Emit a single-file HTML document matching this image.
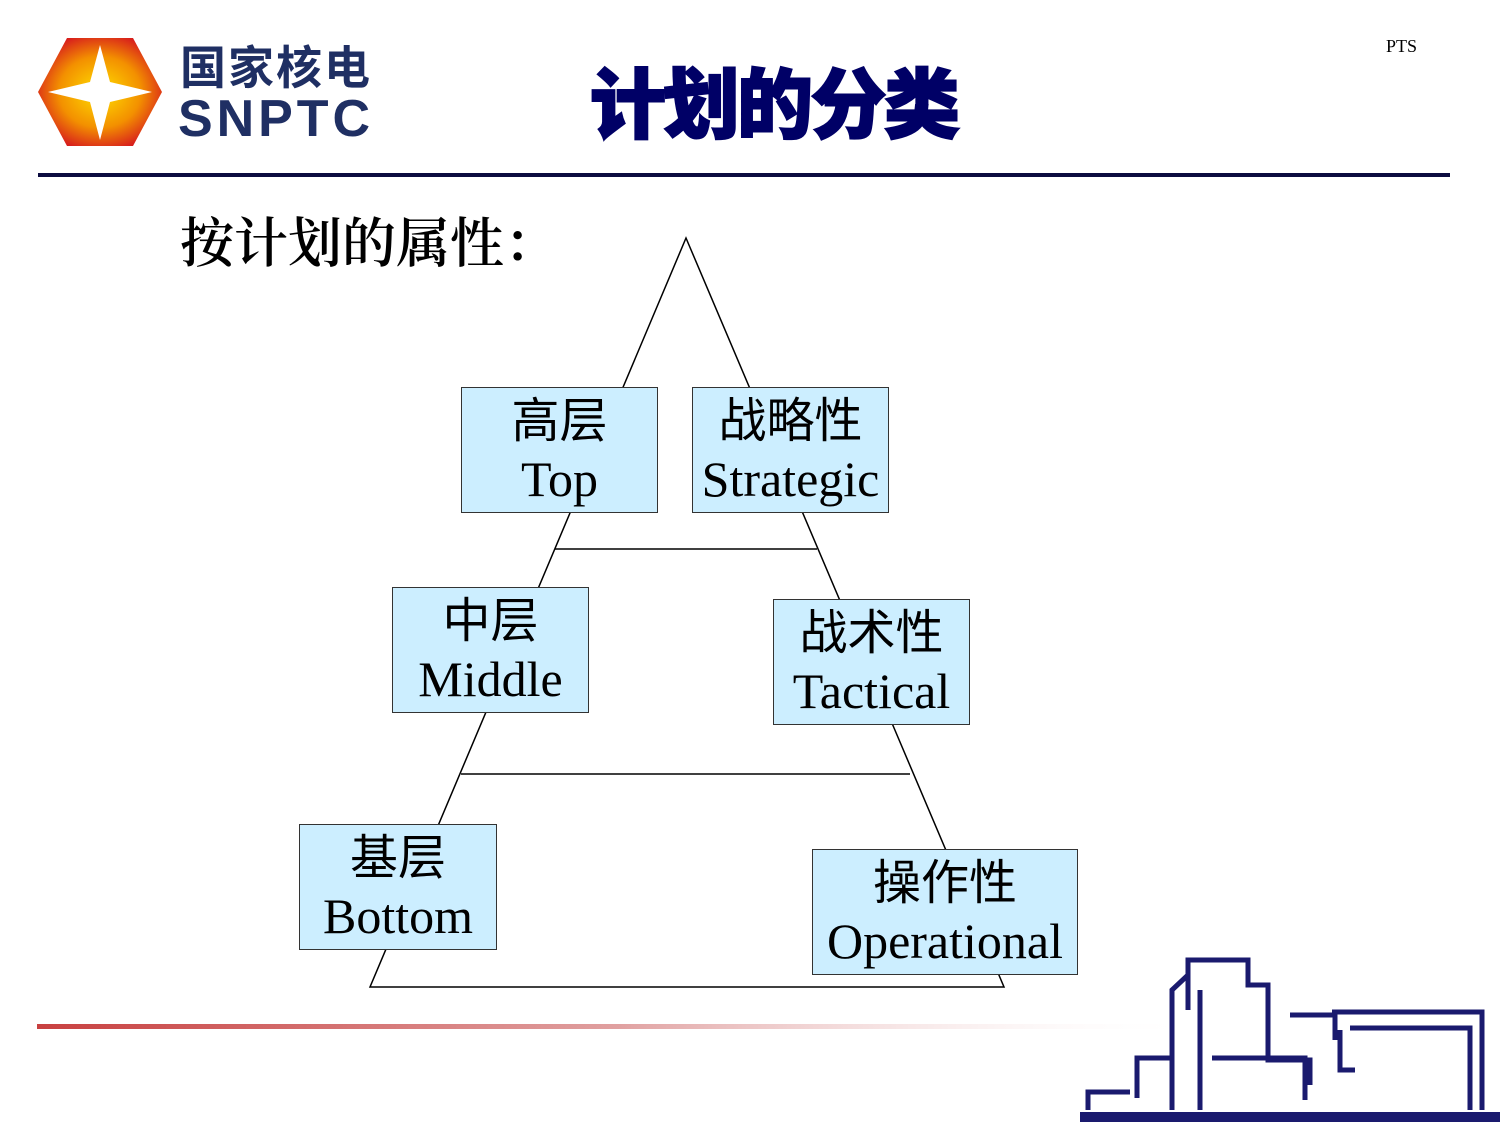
<!DOCTYPE html>
<html><head><meta charset="utf-8"><style>
body{margin:0;width:1500px;height:1125px;background:#fff;overflow:hidden;position:relative;font-family:"Liberation Serif","Noto Serif CJK SC",serif}
.b{position:absolute;background:#cceeff;border:1.5px solid #333;box-sizing:border-box;text-align:center;color:#000;white-space:nowrap}
.b .c{font-family:"Liberation Sans","Noto Sans CJK SC",sans-serif;font-size:48px;line-height:54px;margin-top:7px}
.b .e{font-size:50px;line-height:61px}
</style></head><body>
<svg width="1500" height="1125" style="position:absolute;left:0;top:0">
<defs>
<radialGradient id="g" cx="50%" cy="50%" r="55%"><stop offset="0" stop-color="#ffe000"/><stop offset="0.6" stop-color="#f39000"/><stop offset="1" stop-color="#d8201c"/></radialGradient>
<linearGradient id="rl" x1="0" x2="1"><stop offset="0" stop-color="#c84040"/><stop offset="0.5" stop-color="#e0a0a0"/><stop offset="1" stop-color="#ffffff" stop-opacity="0"/></linearGradient>
</defs>
<polygon points="67,38 133,38 162,92 133,146 67,146 38,92" fill="url(#g)"/>
<polygon points="100,45 110,82 152,92 110,102 100,140 90,102 48,92 90,82" fill="#fff"/>
<text x="180" y="84" font-family="Liberation Sans,Noto Sans CJK SC,sans-serif" font-size="46" font-weight="bold" fill="#1f2f63" textLength="190">国家核电</text>
<text x="178" y="136" font-family="Liberation Sans,sans-serif" font-size="52" font-weight="bold" fill="#1f2f63" textLength="192">SNPTC</text>
<text x="590" y="132" font-family="Noto Sans CJK SC,sans-serif" font-size="76" font-weight="900" fill="#000066" stroke="#000066" stroke-width="2" textLength="370">计划的分类</text>
<text x="1386" y="52" font-size="18" fill="#000">PTS</text>
<rect x="38" y="173" width="1412" height="4" fill="#0c0c40"/>
<text x="180" y="262" font-family="Noto Serif CJK SC,serif" font-size="54" font-weight="600" fill="#000">按计划的属性：</text>
<polygon points="686,238 370,987 1004,987" fill="none" stroke="#000" stroke-width="1.5"/>
<line x1="555" y1="549" x2="817" y2="549" stroke="#000" stroke-width="1.5"/>
<line x1="461" y1="774" x2="910" y2="774" stroke="#000" stroke-width="1.5"/>
<rect x="37" y="1024" width="1160" height="5" fill="url(#rl)"/>
<g fill="none" stroke="#1a1a6e" stroke-width="5">
<path d="M1188,1010 V960 H1248 V985 H1268 V1060 H1310 V1085"/>
<path d="M1172,1110 V990 L1188,975"/>
<path d="M1200,990 V1110"/>
<path d="M1290,1015 H1335 V1040"/>
<path d="M1332,1012 H1482 V1110"/>
<path d="M1350,1028 H1470 V1110"/>
<path d="M1137,1098 V1058 H1170"/>
<path d="M1088,1110 V1092 H1130"/>
<path d="M1212,1058 H1305 V1100"/>
<path d="M1340,1030 V1070 H1355"/>
</g>
<rect x="1080" y="1112" width="420" height="10" fill="#1a1a6e"/>
</svg>
<div class="b" style="left:461px;top:387px;width:197px;height:126px"><div class="c">高层</div><div class="e">Top</div></div>
<div class="b" style="left:692px;top:387px;width:197px;height:126px"><div class="c">战略性</div><div class="e">Strategic</div></div>
<div class="b" style="left:392px;top:587px;width:197px;height:126px"><div class="c">中层</div><div class="e">Middle</div></div>
<div class="b" style="left:773px;top:599px;width:197px;height:126px"><div class="c">战术性</div><div class="e">Tactical</div></div>
<div class="b" style="left:299px;top:824px;width:198px;height:126px"><div class="c">基层</div><div class="e">Bottom</div></div>
<div class="b" style="left:812px;top:849px;width:266px;height:126px"><div class="c">操作性</div><div class="e">Operational</div></div>
</body></html>
